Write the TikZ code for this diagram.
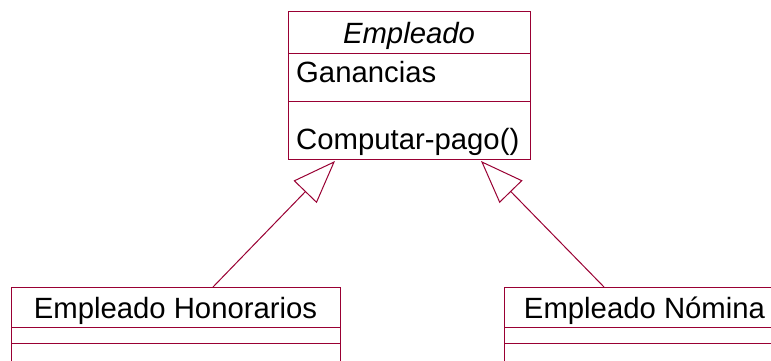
\documentclass[tikz,border=0pt]{standalone}
\usepackage{fontspec}
\setmainfont{Liberation Sans}
\usetikzlibrary{arrows.meta}
\definecolor{umlred}{RGB}{153,0,51}

\begin{document}
\begin{tikzpicture}[x=1pt, y=-1pt,
    classbox/.style={draw=umlred, line width=1pt, rectangle, inner sep=0pt, anchor=north west},
    divider/.style={draw=umlred, line width=1pt},
    txt/.style={inner sep=0pt, font=\fontsize{29.3}{30}\selectfont},
    abstxt/.style={inner sep=0pt, font=\fontsize{29.3}{30}\selectfont\itshape},
    inherit/.style={draw=umlred, line width=1pt,
      -{Triangle[open, length=43pt, width=32pt, fill=white]}}]
  \useasboundingbox (0,0) rectangle (771,360);
  \clip (0,0) rectangle (771,360);

  % superclass
  \node[classbox, minimum width=242pt, minimum height=148pt] (empleado) at (288,11) {};
  \draw[divider] (288,53) -- (530,53);
  \draw[divider] (288,101) -- (530,101);
  \node[abstxt, anchor=base] (titulo) at (409,43) {Empleado};
  \node[txt, anchor=base west] (atributo) at (296,82) {Ganancias};
  \node[txt, anchor=base west] (metodo) at (296,149) {Computar-pago()};

  % subclasses
  \node[classbox, minimum width=329pt, minimum height=100pt] (honorarios) at (11,287) {};
  \draw[divider] (11,327) -- (340,327);
  \draw[divider] (11,343) -- (340,343);
  \node[txt, anchor=base] (hontxt) at (175.5,318) {Empleado Honorarios};

  \node[classbox, minimum width=281pt, minimum height=100pt] (nomina) at (504,287) {};
  \draw[divider] (504,327) -- (785,327);
  \draw[divider] (504,343) -- (785,343);
  \node[txt, anchor=base] (nomtxt) at (644.5,318) {Empleado Nómina};

  % generalization
  \coordinate (tipL) at (335,161);
  \coordinate (tipR) at (481,161);
  \draw[inherit] ([xshift=202pt]honorarios.north west) -- (tipL);
  \draw[inherit] ([xshift=100pt]nomina.north west) -- (tipR);
\end{tikzpicture}
\end{document}
